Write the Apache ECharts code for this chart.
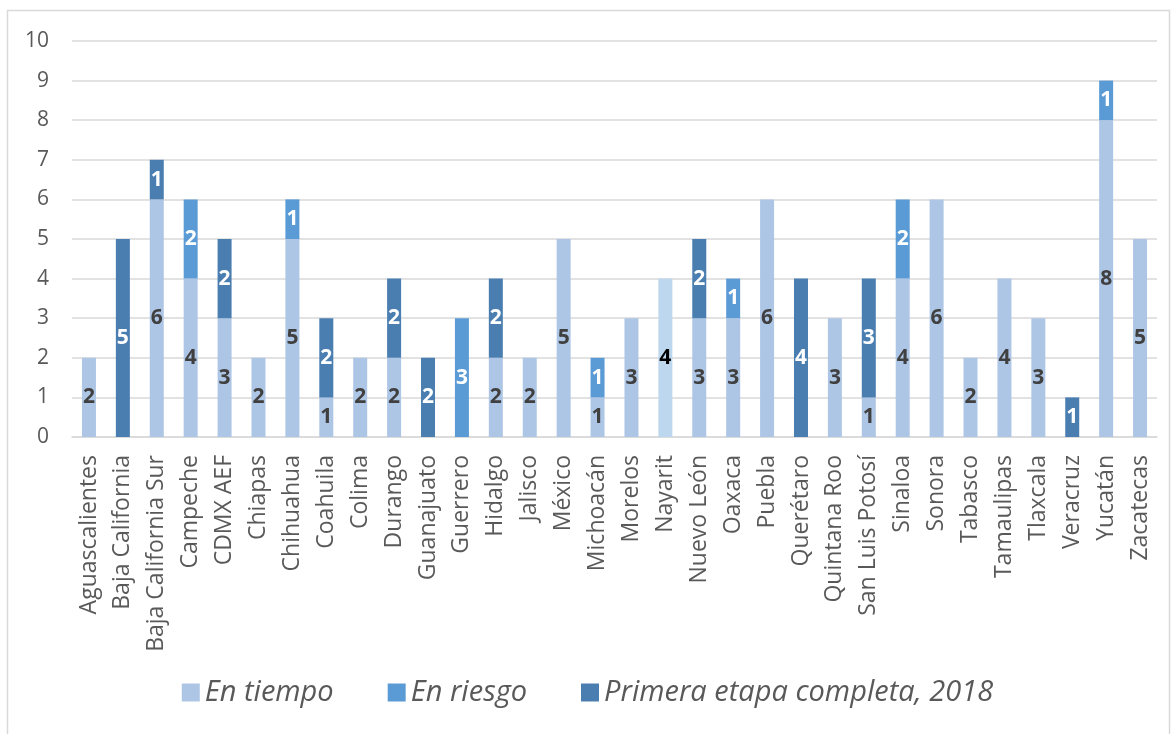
<!DOCTYPE html>
<html>
<head>
<meta charset="utf-8">
<script src="https://cdn.jsdelivr.net/npm/echarts@6/dist/echarts.min.js"></script>
<style>
  html, body { margin: 0; padding: 0; background: #fff; }
  #chart { width: 1175px; height: 734px; }
</style>
</head>
<body>
<div id="chart"></div>
<script>
// categorías (estados)
const estados = ['Aguascalientes', 'Baja California', 'Baja California Sur', 'Campeche', 'CDMX AEF', 'Chiapas',
  'Chihuahua', 'Coahuila', 'Colima', 'Durango', 'Guanajuato', 'Guerrero', 'Hidalgo', 'Jalisco', 'México',
  'Michoacán', 'Morelos', 'Nayarit', 'Nuevo León', 'Oaxaca', 'Puebla', 'Querétaro', 'Quintana Roo',
  'San Luis Potosí', 'Sinaloa', 'Sonora', 'Tabasco', 'Tamaulipas', 'Tlaxcala', 'Veracruz', 'Yucatán', 'Zacatecas']
const enTiempo = [2, 0, 6, 4, 3, 2, 5, 1, 2, 2, 0, 0, 2, 2, 5, 1, 3, 4, 3, 3, 6, 0, 3, 1, 4, 6, 2, 4, 3, 0, 8, 5]
const enRiesgo = [0, 0, 0, 2, 0, 0, 1, 0, 0, 0, 0, 3, 0, 0, 0, 1, 0, 0, 0, 1, 0, 0, 0, 0, 2, 0, 0, 0, 0, 0, 1, 0]
const primeraEtapa = [0, 5, 1, 0, 2, 0, 0, 2, 0, 2, 2, 0, 2, 0, 0, 0, 0, 0, 2, 0, 0, 4, 0, 3, 0, 0, 0, 0, 0, 1, 0, 0]
const yTicks = [0, 10, 1] // min, max, intervalo

const chartInstance = echarts.init(document.getElementById('chart'))

const labelFont = '"Open Sans", sans-serif'

function makeSeries (name, values, color, labelColor) {
  return {
    name: name,
    type: 'bar',
    stack: 'total',
    barWidth: 14,
    itemStyle: { color: color },
    label: {
      show: true,
      position: 'inside',
      color: labelColor,
      fontFamily: labelFont,
      fontWeight: 'bold',
      fontSize: 21,
      formatter: p => (p.value ? p.value : '')
    },
    data: values.map((v, i) => {
      // Nayarit va en un tono más claro con etiqueta negra
      if (name === 'En tiempo' && estados[i] === 'Nayarit') {
        return { value: v, itemStyle: { color: '#BDD7EE' }, label: { color: '#000' } }
      }
      return v
    })
  }
}

const option = {
  animation: false,
  backgroundColor: '#fff',
  textStyle: { fontFamily: labelFont },
  graphic: [{
    type: 'rect',
    shape: { x: 7.5, y: 10.5, width: 1162, height: 740 },
    style: { fill: 'none', stroke: '#D9D9D9', lineWidth: 1.5 },
    silent: true
  }],
  grid: { left: 72, right: 18, top: 41, bottom: 297, containLabel: false },
  legend: {
    bottom: 22,
    left: 'center',
    itemWidth: 18,
    itemHeight: 18,
    itemGap: 54,
    icon: 'rect',
    textStyle: { fontSize: 29, fontStyle: 'italic', color: '#595959', fontFamily: labelFont },
    data: ['En tiempo', 'En riesgo', 'Primera etapa completa, 2018']
  },
  xAxis: {
    type: 'category',
    data: estados,
    axisLine: { lineStyle: { color: '#D9D9D9', width: 1.5 } },
    axisTick: { show: false },
    axisLabel: {
      rotate: 90,
      interval: 0,
      margin: 18,
      color: '#595959',
      fontSize: 23,
      fontFamily: labelFont
    }
  },
  yAxis: {
    type: 'value',
    min: yTicks[0],
    max: yTicks[1],
    interval: yTicks[2],
    axisLine: { show: false },
    axisTick: { show: false },
    splitLine: { lineStyle: { color: '#D9D9D9', width: 1.5 } },
    axisLabel: { color: '#595959', fontSize: 21, margin: 23, fontFamily: labelFont }
  },
  series: [
    makeSeries('En tiempo', enTiempo, '#AEC6E5', '#404040'),
    makeSeries('En riesgo', enRiesgo, '#5B9BD5', '#fff'),
    makeSeries('Primera etapa completa, 2018', primeraEtapa, '#4A7EB0', '#fff')
  ]
}

chartInstance.setOption(option)
</script>
</body>
</html>
